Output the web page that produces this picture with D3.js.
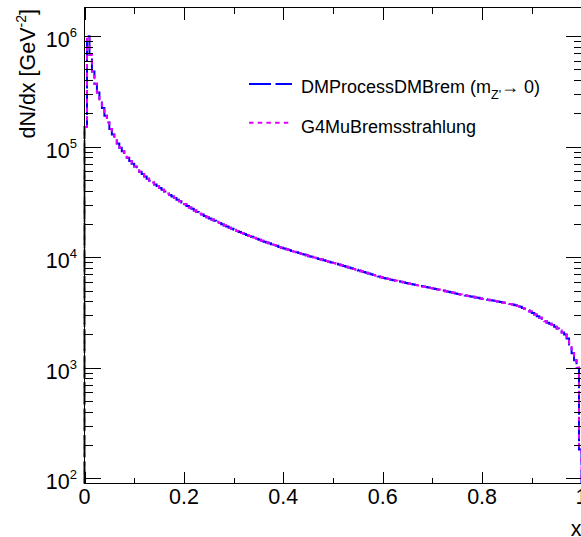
<!DOCTYPE html>
<html>
<head>
<meta charset="utf-8">
<script src="https://cdn.jsdelivr.net/npm/d3@7"></script>
<style>
  html, body { margin: 0; padding: 0; background: #ffffff; }
  svg { display: block; font-family: "Liberation Sans", Arial, Helvetica, sans-serif; }
</style>
</head>
<body>
<svg id="chart" width="581" height="537"></svg>
<script>
// Binning of both histograms: 200 equal bins on x in [0, 1]
const xMin = 0;
const xMax = 1;

// dN/dx per bin [GeV^-2], DMProcessDMBrem with m_Z' -> 0
const dmBremCounts = [
  151000, 1000000, 676000, 479000, 372000, 309000, 257000, 224000, 191000, 166000,
  145000, 129000, 117000, 107000, 97700, 91200, 84900, 79300, 74400, 70000,
  66100, 62600, 59400, 56500, 53900, 51400, 49200, 47400, 45600, 44000,
  42400, 40800, 39300, 37800, 36600, 35400, 34300, 33200, 32100, 31100,
  30100, 29100, 28200, 27400, 26500, 25700, 24900, 24300, 23600, 23000,
  22400, 21900, 21400, 20900, 20400, 19900, 19400, 19000, 18500, 18100,
  17700, 17300, 16900, 16600, 16200, 15900, 15600, 15300, 15000, 14700,
  14400, 14100, 13800, 13600, 13400, 13100, 12900, 12700, 12400, 12200,
  12000, 11800, 11600, 11400, 11200, 11100, 10900, 10700, 10600, 10400,
  10200, 10100, 9940, 9800, 9660, 9520, 9380, 9250, 9110, 8980,
  8850, 8720, 8590, 8460, 8330, 8200, 8080, 7960, 7840, 7720,
  7600, 7480, 7370, 7250, 7140, 7020, 6910, 6800, 6700, 6590,
  6490, 6410, 6340, 6270, 6200, 6130, 6060, 5990, 5930, 5860,
  5790, 5730, 5680, 5620, 5560, 5500, 5440, 5390, 5330, 5280,
  5220, 5160, 5100, 5050, 4990, 4930, 4870, 4820, 4760, 4710,
  4660, 4610, 4560, 4510, 4470, 4420, 4380, 4330, 4290, 4240,
  4200, 4160, 4120, 4080, 4050, 4010, 3970, 3940, 3900, 3860,
  3830, 3780, 3730, 3680, 3620, 3560, 3480, 3400, 3320, 3230,
  3130, 3030, 2930, 2830, 2720, 2640, 2560, 2500, 2440, 2350,
  2270, 2190, 2090, 2000, 1840, 1620, 1350, 1170, 1000, 182
];

// dN/dx per bin [GeV^-2], Geant4 G4MuBremsstrahlung
const g4MuBremCounts = [
  151000, 1000000, 676000, 479000, 372000, 309000, 257000, 224000, 191000, 166000,
  145000, 129000, 117000, 107000, 97700, 91200, 84900, 79300, 74400, 70000,
  66100, 62600, 59400, 56500, 53900, 51400, 49200, 47400, 45600, 44000,
  42400, 40800, 39300, 37800, 36600, 35400, 34300, 33200, 32100, 31100,
  30100, 29100, 28200, 27400, 26500, 25700, 24900, 24300, 23600, 23000,
  22400, 21900, 21400, 20900, 20400, 19900, 19400, 19000, 18500, 18100,
  17700, 17300, 16900, 16600, 16200, 15900, 15600, 15300, 15000, 14700,
  14400, 14100, 13800, 13600, 13400, 13100, 12900, 12700, 12400, 12200,
  12000, 11800, 11600, 11400, 11200, 11100, 10900, 10700, 10600, 10400,
  10200, 10100, 9940, 9800, 9660, 9520, 9380, 9250, 9110, 8980,
  8850, 8720, 8590, 8460, 8330, 8200, 8080, 7960, 7840, 7720,
  7600, 7480, 7370, 7250, 7140, 7020, 6910, 6800, 6700, 6590,
  6490, 6410, 6340, 6270, 6200, 6130, 6060, 5990, 5930, 5860,
  5790, 5730, 5680, 5620, 5560, 5500, 5440, 5390, 5330, 5280,
  5220, 5160, 5100, 5050, 4990, 4930, 4870, 4820, 4760, 4710,
  4660, 4610, 4560, 4510, 4470, 4420, 4380, 4330, 4290, 4240,
  4200, 4160, 4120, 4080, 4050, 4010, 3970, 3940, 3900, 3860,
  3830, 3780, 3730, 3680, 3620, 3560, 3480, 3400, 3320, 3230,
  3130, 3030, 2930, 2830, 2720, 2640, 2560, 2500, 2440, 2350,
  2270, 2190, 2090, 2000, 1840, 1620, 1350, 1170, 1000, 182
];

// Axis ranges and ticks
const yMin = 89.7;
const yMax = 1.818e6;
const xMajorTicks = [0, 0.2, 0.4, 0.6, 0.8, 1];
const xTickLabels = ["0", "0.2", "0.4", "0.6", "0.8", "1"];
const xMinorTicks = [0.1, 0.3, 0.5, 0.7, 0.9];
const yDecadeExponents = [2, 3, 4, 5, 6];
const yMinorMultipliers = [2, 3, 4, 5, 6, 7, 8, 9];

// Legend entries
const seriesNames = ["DMProcessDMBrem", "G4MuBremsstrahlung"];

const svg = d3.select("#chart");
const frame = { left: 84.5, right: 581.5, top: 7.5, bottom: 483.5 };

const x = d3.scaleLinear().domain([xMin, xMax]).range([frame.left, frame.right]);
const y = d3.scaleLog().domain([yMin, yMax]).range([frame.bottom, frame.top]);

svg.append("rect").attr("width", 581).attr("height", 537).attr("fill", "#ffffff");

// Step outline of a histogram, closed down to the frame floor at both ends
function histPath(counts) {
  const n = counts.length;
  const w = (xMax - xMin) / n;
  const pts = [[xMin, yMin]];
  counts.forEach((c, i) => pts.push([xMin + i * w, Math.max(c, yMin)]));
  pts.push([xMax, Math.max(counts[n - 1], yMin)]);
  pts.push([xMax, yMin]);
  return d3.line()
    .x(d => x(d[0]))
    .y(d => y(d[1]))
    .curve(d3.curveStepAfter)(pts);
}

svg.append("clipPath").attr("id", "plotClip")
  .append("rect")
  .attr("x", frame.left - 2).attr("y", frame.top)
  .attr("width", frame.right - frame.left + 4)
  .attr("height", frame.bottom - frame.top + 1);

const plot = svg.append("g").attr("clip-path", "url(#plotClip)");

const styles = [
  { counts: dmBremCounts, color: "#0000ff", dash: "22 4.5" },
  { counts: g4MuBremCounts, color: "#e000ff", dash: "4.5 4.2" }
];

styles.forEach(s => {
  plot.append("path")
    .attr("d", histPath(s.counts))
    .attr("fill", "none")
    .attr("stroke", s.color)
    .attr("stroke-width", 2)
    .attr("stroke-dasharray", s.dash);
});

// Frame
svg.append("rect")
  .attr("x", frame.left).attr("y", frame.top)
  .attr("width", frame.right - frame.left)
  .attr("height", frame.bottom - frame.top)
  .attr("fill", "none").attr("stroke", "#000").attr("stroke-width", 1);

const ticks = svg.append("g").attr("stroke", "#000").attr("stroke-width", 1)
  .attr("shape-rendering", "crispEdges");

// x ticks on bottom and top, pointing into the frame
function xTick(v, len) {
  const px = Math.round(x(v)) + 0.5;
  ticks.append("line").attr("x1", px).attr("x2", px)
    .attr("y1", frame.bottom).attr("y2", frame.bottom - len);
  ticks.append("line").attr("x1", px).attr("x2", px)
    .attr("y1", frame.top).attr("y2", frame.top + len);
}
xMajorTicks.forEach(v => xTick(v, 12));
xMinorTicks.forEach(v => xTick(v, 6));

// y ticks on left and right, pointing into the frame
function yTick(v, len) {
  const py = Math.round(y(v)) + 0.5;
  ticks.append("line").attr("y1", py).attr("y2", py)
    .attr("x1", frame.left).attr("x2", frame.left + len);
  ticks.append("line").attr("y1", py).attr("y2", py)
    .attr("x1", frame.right).attr("x2", frame.right - len);
}
yDecadeExponents.forEach(e => {
  const base = Math.pow(10, e);
  if (base >= yMin && base <= yMax) yTick(base, 16);
  yMinorMultipliers.forEach(m => {
    const v = m * base;
    if (v >= yMin && v <= yMax) yTick(v, 8);
  });
});

// x tick labels
const labelSize = 21.5;
svg.append("g").selectAll("text")
  .data(xMajorTicks)
  .join("text")
  .attr("x", d => x(d))
  .attr("y", 503.5)
  .attr("text-anchor", "middle")
  .attr("font-size", labelSize)
  .attr("fill", "#000")
  .text((d, i) => xTickLabels[i]);

// y tick labels: powers of ten
const yLabels = svg.append("g");
yDecadeExponents.forEach(e => {
  const t = yLabels.append("text")
    .attr("x", 77)
    .attr("y", y(Math.pow(10, e)) + 11)
    .attr("text-anchor", "end")
    .attr("font-size", labelSize)
    .attr("fill", "#000");
  t.append("tspan").text("10");
  t.append("tspan").attr("font-size", 13).attr("dy", -10).text(String(e));
});

// Axis titles
svg.append("text")
  .attr("x", 581.5).attr("y", 536)
  .attr("text-anchor", "end")
  .attr("font-size", labelSize)
  .text("x");

const yTitle = svg.append("text")
  .attr("transform", "translate(35,9) rotate(-90)")
  .attr("text-anchor", "end")
  .attr("font-size", labelSize);
yTitle.append("tspan").text("dN/dx [GeV");
yTitle.append("tspan").attr("font-size", 14).attr("dy", -9).text("-2");
yTitle.append("tspan").attr("dy", 9).text("]");

// Legend
const legend = svg.append("g");
const legendRows = [
  { y: 84, color: styles[0].color, dash: styles[0].dash, x2: 292 },
  { y: 122.7, color: styles[1].color, dash: styles[1].dash, x2: 289 }
];
legendRows.forEach(r => {
  legend.append("line")
    .attr("x1", 249).attr("x2", r.x2)
    .attr("y1", r.y).attr("y2", r.y)
    .attr("stroke", r.color).attr("stroke-width", 2)
    .attr("stroke-dasharray", r.dash);
});
const l1 = legend.append("text").attr("x", 301).attr("y", 92.7).attr("font-size", 18);
l1.append("tspan").text(seriesNames[0] + " (m");
l1.append("tspan").attr("font-size", 12.5).attr("dy", 6).text("Z'");
l1.append("tspan").attr("dy", -6).text("\u2192 0)");
legend.append("text").attr("x", 301).attr("y", 132.7).attr("font-size", 18)
  .text(seriesNames[1]);
</script>
</body>
</html>
